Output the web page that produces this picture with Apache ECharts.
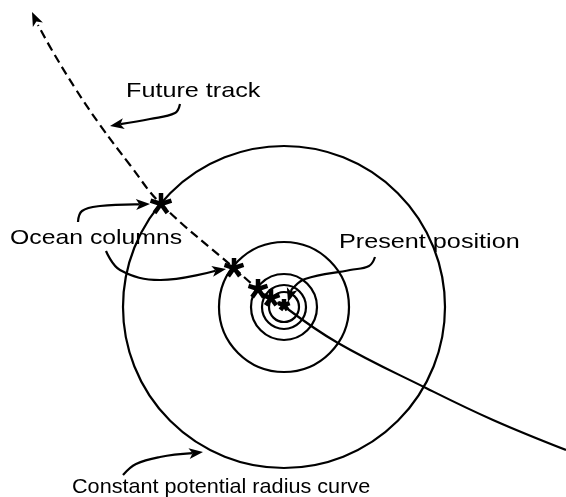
<!DOCTYPE html>
<html>
<head>
<meta charset="utf-8">
<script src="https://cdn.jsdelivr.net/npm/echarts@6/dist/echarts.min.js"></script>
<style>html,body{margin:0;background:#fff}</style>
</head>
<body>
<div id="main" style="width:566px;height:497px"></div>
<script>
// axis units = pixels of the original figure, y grows downward
let center = [284, 307];
let radii = [161, 65, 33, 22, 15];

let pastTrack = [[285, 307], [338, 343], [426, 388], [493, 420], [566, 450]];
let futureTrack = [[285, 307], [271, 298], [258, 289], [234, 268], [161, 204], [130, 165],
  [100, 125], [75, 88], [53, 52], [38, 25], [32, 12]];
// x, y, arm length
let columns = [[161, 204, 11], [234, 268, 10], [258, 289, 10], [271, 298, 9], [284, 305, 6]];

let arrowFuture = [[180, 104], [175, 113], [150, 119], [110, 126]];
let arrowOcean1 = [[78, 222], [82, 211], [100, 206], [150, 204]];
let arrowOcean2 = [[106, 251], [120, 270], [160, 280], [226, 269]];
let arrowPresent = [[375, 257], [369, 266], [350, 270], [305, 279], [292, 289], [288, 302]];
let arrowRadius = [[123, 475], [136, 464], [160, 457], [203, 452]];
let arrowList = [arrowFuture, arrowOcean1, arrowOcean2, arrowPresent, arrowRadius];

let myChart = echarts.init(document.getElementById("main"));

function arrowHead(tip, prev) {
  let a = Math.atan2(tip[1] - prev[1], tip[0] - prev[0]);
  let len = 14, half = 5.5;
  let cs = Math.cos(a), sn = Math.sin(a);
  let bx = tip[0] - len * cs, by = tip[1] - len * sn;
  let notch = [tip[0] - len * 0.75 * cs, tip[1] - len * 0.75 * sn];
  return {
    base: notch,
    points: [tip, [bx + half * sn, by - half * cs], notch, [bx - half * sn, by + half * cs]]
  };
}

function renderArrow(params, api) {
  let pts = arrowList[params.dataIndex].map(p => api.coord(p));
  let n = pts.length;
  let head = arrowHead(pts[n - 1], pts[n - 2]);
  return {
    type: "group",
    children: [
      {
        type: "polyline",
        shape: { points: pts.slice(0, n - 1).concat([head.base]), smooth: 0.4 },
        style: { stroke: "#000", lineWidth: 2.2, fill: null }
      },
      { type: "polygon", shape: { points: head.points }, style: { fill: "#000" } }
    ]
  };
}

let option = {
  animation: false,
  grid: { left: 0, right: 0, top: 0, bottom: 0 },
  xAxis: { type: "value", min: 0, max: 566, show: false },
  yAxis: { type: "value", min: 0, max: 497, inverse: true, show: false },
  graphic: [
    { type: "text", x: 126, y: 91, scaleX: 1.2, style: { text: "Future track", font: '21px "Liberation Sans"', fill: "#000", verticalAlign: "middle" } },
    { type: "text", x: 10, y: 238, scaleX: 1.18, style: { text: "Ocean columns", font: '21px "Liberation Sans"', fill: "#000", verticalAlign: "middle" } },
    { type: "text", x: 339, y: 242, scaleX: 1.2, style: { text: "Present position", font: '21px "Liberation Sans"', fill: "#000", verticalAlign: "middle" } },
    { type: "text", x: 72, y: 487, scaleX: 1.03, style: { text: "Constant potential radius curve", font: '21px "Liberation Sans"', fill: "#000", verticalAlign: "middle" } }
  ],
  series: [
    {
      type: "custom",
      clip: false,
      data: radii.map(r => [center[0], center[1], r]),
      renderItem: function (params, api) {
        let c = api.coord([api.value(0), api.value(1)]);
        let r = api.size([api.value(2), 0])[0];
        return {
          type: "circle",
          shape: { cx: c[0], cy: c[1], r: r },
          style: { fill: null, stroke: "#000", lineWidth: 2.2 }
        };
      }
    },
    {
      type: "line",
      data: pastTrack,
      smooth: 0.4,
      symbol: "none",
      lineStyle: { color: "#000", width: 2.2 }
    },
    {
      type: "line",
      data: futureTrack.slice(0, futureTrack.length - 1),
      smooth: 0.4,
      symbol: "none",
      lineStyle: { color: "#000", width: 2.2, type: [9, 5] }
    },
    {
      // arrow head at the end of the future track
      type: "custom",
      clip: false,
      data: [futureTrack[futureTrack.length - 1]],
      renderItem: function (params, api) {
        let n = futureTrack.length;
        let head = arrowHead(api.coord(futureTrack[n - 1]), api.coord(futureTrack[n - 2]));
        return { type: "polygon", shape: { points: head.points }, style: { fill: "#000" } };
      }
    },
    {
      type: "custom",
      clip: false,
      data: columns,
      renderItem: function (params, api) {
        let c = api.coord([api.value(0), api.value(1)]);
        let r = api.value(2);
        let arms = [];
        [-90, -18, 54, 126, 198].forEach(d => {
          let a = d * Math.PI / 180;
          arms.push({
            type: "line",
            shape: { x1: c[0], y1: c[1], x2: c[0] + r * Math.cos(a), y2: c[1] + r * Math.sin(a) },
            style: { stroke: "#000", lineWidth: 4.5 }
          });
        });
        return { type: "group", children: arms };
      }
    },
    {
      type: "custom",
      clip: false,
      data: arrowList.map((a, i) => [a[0][0], a[0][1], i]),
      renderItem: renderArrow
    }
  ]
};
myChart.setOption(option);
</script>
</body>
</html>
